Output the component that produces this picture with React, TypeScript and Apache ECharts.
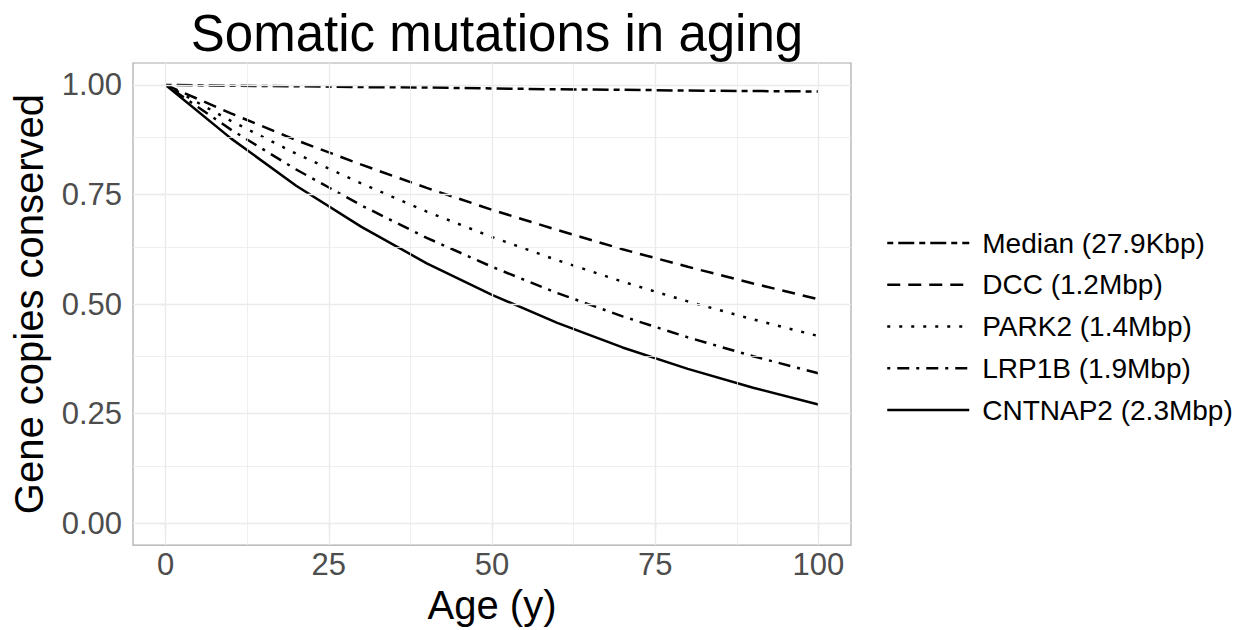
import React, { useEffect, useRef } from "react";
import * as echarts from "echarts";

const ages = [0, 10, 20, 30, 40, 50, 60, 70, 80, 90, 100];
const seriesNames = [
  "Median (27.9Kbp)",
  "DCC (1.2Mbp)",
  "PARK2 (1.4Mbp)",
  "LRP1B (1.9Mbp)",
  "CNTNAP2 (2.3Mbp)",
];
const medianVals = [1, 0.998, 0.997, 0.995, 0.994, 0.992, 0.99, 0.989, 0.987, 0.986, 0.985];
const dccVals = [1, 0.935, 0.874, 0.818, 0.765, 0.715, 0.669, 0.625, 0.585, 0.547, 0.511];
const park2Vals = [1, 0.918, 0.843, 0.775, 0.711, 0.653, 0.6, 0.551, 0.506, 0.465, 0.427];
const lrp1bVals = [1, 0.898, 0.807, 0.725, 0.651, 0.585, 0.525, 0.472, 0.424, 0.381, 0.342];
const cntnap2Vals = [1, 0.878, 0.77, 0.676, 0.593, 0.521, 0.457, 0.401, 0.352, 0.309, 0.271];
const allVals = [medianVals, dccVals, park2Vals, lrp1bVals, cntnap2Vals];

const xTicks = [0, 25, 50, 75, 100];
const xMinor = [12.5, 37.5, 62.5, 87.5];
const yTicks = [0, 0.25, 0.5, 0.75, 1];
const yMinor = [0.125, 0.375, 0.625, 0.875];

const dashes: (number[] | string)[] = [
  [6, 5, 16, 5],
  [13, 8],
  [3, 9],
  [3, 7, 12, 7],
  "solid",
];

const FONT = "'Liberation Sans', Arial, sans-serif";

export default function App() {
  const ref = useRef<HTMLDivElement>(null);
  useEffect(() => {
    document.body.style.margin = "0";
    const chart = echarts.init(ref.current!, undefined, { renderer: "svg" });
    const gridSeries = (name: string, xs: number[], ys: number[], width: number) => ({
      name,
      type: "line",
      data: [],
      z: 1,
      silent: true,
      markLine: {
        silent: true,
        symbol: "none",
        animation: false,
        label: { show: false },
        lineStyle: { color: "#ebebeb", width, type: "solid" },
        data: [...xs.map((v) => ({ xAxis: v })), ...ys.map((v) => ({ yAxis: v }))],
      },
    });
    chart.setOption({
      animation: false,
      backgroundColor: "#ffffff",
      textStyle: { fontFamily: FONT },
      title: {
        text: "Somatic mutations in aging",
        left: 492,
        top: 3,
        textAlign: "center",
        textStyle: { fontFamily: FONT, fontSize: 51, fontWeight: "normal", color: "#000" },
      },
      grid: {
        left: 133,
        right: 399,
        top: 63,
        bottom: 78,
        show: true,
        borderColor: "#aaaaaa",
        borderWidth: 1.2,
        backgroundColor: "#ffffff",
        containLabel: false,
      },
      legend: {
        orient: "vertical",
        left: 881,
        top: 223,
        itemWidth: 82,
        itemHeight: 30,
        itemGap: 11.75,
        data: seriesNames,
        itemStyle: { opacity: 0, borderWidth: 0 },
        lineStyle: { width: 2.5 },
        textStyle: {
          fontFamily: FONT,
          fontSize: 28,
          color: "#000",
          lineHeight: 30,
          padding: [0, 0, 0, 8],
        },
      },
      xAxis: {
        type: "value",
        min: -5,
        max: 105,
        name: "Age (y)",
        nameLocation: "middle",
        nameGap: 29,
        nameTextStyle: { fontFamily: FONT, fontSize: 40, color: "#000" },
        axisLine: { show: false },
        splitLine: { show: false },
        axisTick: { show: true, length: 6, lineStyle: { color: "#aaaaaa", width: 1.2 }, customValues: xTicks },
        axisLabel: { fontFamily: FONT, fontSize: 31, color: "#4d4d4d", margin: 4, customValues: xTicks },
      },
      yAxis: {
        type: "value",
        min: -0.05,
        max: 1.05,
        name: "Gene copies conserved",
        nameLocation: "middle",
        nameGap: 84,
        nameTextStyle: { fontFamily: FONT, fontSize: 40, color: "#000" },
        axisLine: { show: false },
        splitLine: { show: false },
        axisTick: { show: true, length: 6, lineStyle: { color: "#aaaaaa", width: 1.2 }, customValues: yTicks },
        axisLabel: {
          fontFamily: FONT,
          fontSize: 31,
          color: "#4d4d4d",
          margin: 11,
          customValues: yTicks,
          formatter: (v: number) => v.toFixed(2),
        },
      },
      series: [
        gridSeries("_major", xTicks, yTicks, 1.4),
        gridSeries("_minor", xMinor, yMinor, 0.8),
        ...seriesNames.map((name, i) => ({
          name,
          type: "line",
          z: 3,
          symbol: "none",
          showSymbol: false,
          data: ages.map((a, j) => [a, allVals[i][j]]),
          lineStyle: { color: "#000", width: 2.5, type: dashes[i], cap: "butt" },
          itemStyle: { color: "#000" },
        })),
      ],
    });
    return () => chart.dispose();
  }, []);
  return <div ref={ref} style={{ width: 1250, height: 630 }} />;
}
